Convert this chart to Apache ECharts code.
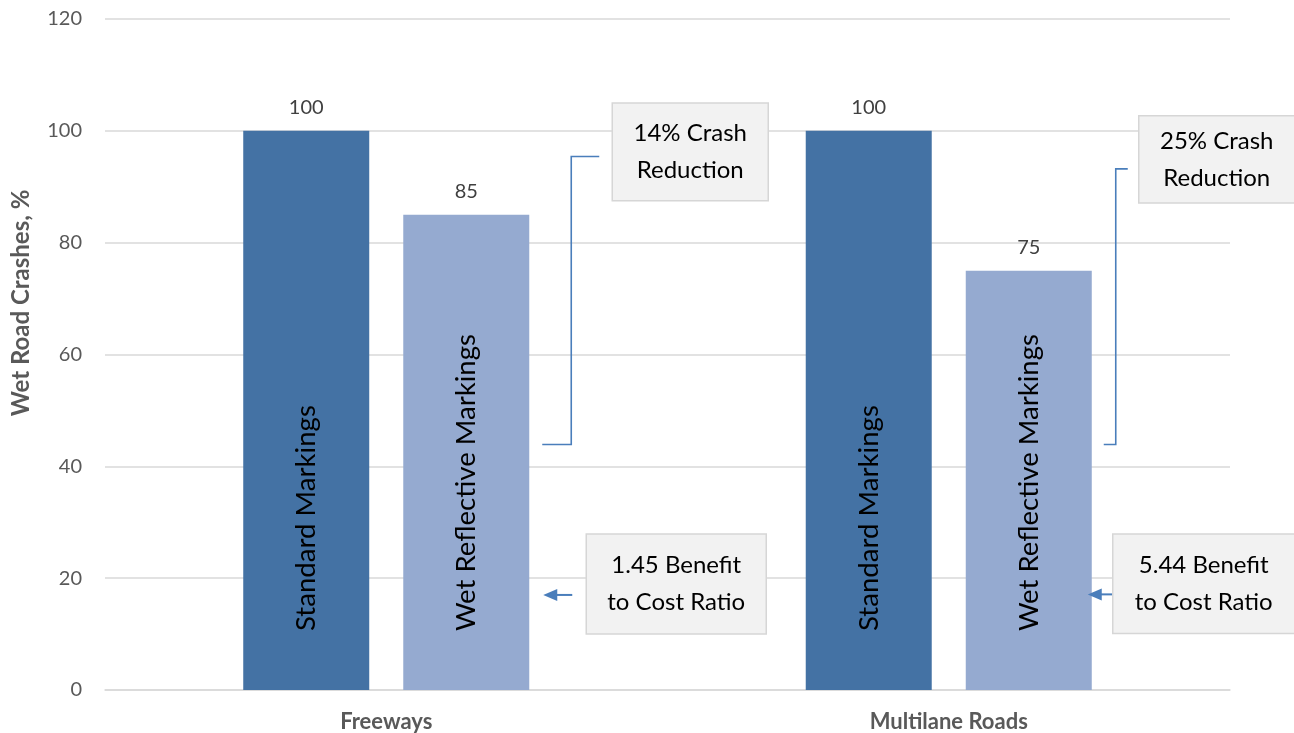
<!DOCTYPE html>
<html><head><meta charset="utf-8">
<script src="https://cdn.jsdelivr.net/npm/echarts@6/dist/echarts.min.js"></script>
<style>html,body{margin:0;padding:0;background:#fff}#c{width:1294px;height:733px}</style>
</head><body><div id="c"></div>
<script>
// ---- data ----
const categories = ['Freeways', 'Multilane Roads'];
const standardMarkings = [100, 100];
const wetReflectiveMarkings = [85, 75];
const seriesNames = ['Standard Markings', 'Wet Reflective Markings'];
const crashReductionNotes = ['14% Crash\nReduction', '25% Crash\nReduction'];
const benefitCostNotes = ['1.45 Benefit\nto Cost Ratio', '5.44 Benefit\nto Cost Ratio'];
const yAxisTitle = 'Wet Road Crashes, %';
const yMin = 0, yMax = 120, yStep = 20;

// ---- annotation layout (pixel offsets from category centre, vertical positions in axis units) ----
const annotLayout = [
  { brX: 185, brTopR: 213, brBotL: 156, brTop: 95.4, brBot: 43.9,
    boxL: 226, boxW: 156, boxTop: 105, boxBot: 87.5,
    arTip: 157, arTail: 186, arVal: 17.0, bcrL: 200, bcrW: 180, bcrTop: 27.9, bcrBot: 10.0 },
  { brX: 167, brTopR: 179, brBotL: 155, brTop: 93.2, brBot: 43.9,
    boxL: 190, boxW: 156, boxTop: 102.7, boxBot: 87.1,
    arTip: 139, arTail: 164, arVal: 17.1, bcrL: 164, bcrW: 182, bcrTop: 27.9, bcrBot: 10.1 }
];

const FONT = 'Lato, "Noto Sans", sans-serif';
const lineBlue = '#4a7ebb';

function renderAnnot(params, api) {
  const i = api.value(0);
  const L = annotLayout[i];
  const cx = api.coord([i, 0])[0];
  const y = v => api.coord([i, v])[1];
  const ls = { stroke: lineBlue, lineWidth: 1.6, fill: null };
  const boxStyle = { fill: '#f2f2f2', stroke: '#d6d6d6', lineWidth: 1.5 };
  const txt = (text, x, yy) => ({
    type: 'text',
    style: { text, x, y: yy, align: 'center', verticalAlign: 'middle',
      fontFamily: FONT, fontSize: 24, lineHeight: 37, fill: '#000' }
  });
  const ay = y(L.arVal);
  return {
    type: 'group',
    children: [
      { type: 'polyline', shape: { points: [
        [cx + L.brBotL, y(L.brBot)], [cx + L.brX, y(L.brBot)],
        [cx + L.brX, y(L.brTop)], [cx + L.brTopR, y(L.brTop)] ] }, style: ls },
      { type: 'rect', shape: { x: cx + L.boxL, y: y(L.boxTop), width: L.boxW, height: y(L.boxBot) - y(L.boxTop) }, style: boxStyle },
      txt(crashReductionNotes[i], cx + L.boxL + L.boxW / 2, (y(L.boxTop) + y(L.boxBot)) / 2),
      { type: 'line', shape: { x1: cx + L.arTail, y1: ay, x2: cx + L.arTip + 10, y2: ay }, style: { stroke: lineBlue, lineWidth: 2 } },
      { type: 'polygon', shape: { points: [[cx + L.arTip, ay], [cx + L.arTip + 14, ay - 6], [cx + L.arTip + 14, ay + 6]] }, style: { fill: lineBlue } },
      { type: 'rect', shape: { x: cx + L.bcrL, y: y(L.bcrTop), width: L.bcrW, height: y(L.bcrBot) - y(L.bcrTop) }, style: boxStyle },
      txt(benefitCostNotes[i], cx + L.bcrL + L.bcrW / 2, (y(L.bcrTop) + y(L.bcrBot)) / 2)
    ]
  };
}

const barCommon = { barWidth: 126, barGap: '27%' };
const valueLabel = { show: true, position: 'top', distance: 13, fontFamily: FONT, fontSize: 20, color: '#404040' };
const insideLabel = { show: true, position: 'insideBottom', rotate: 90, align: 'left', verticalAlign: 'middle',
  distance: 59, formatter: '{a}', fontFamily: FONT, fontSize: 27.6, color: '#000' };

const chart = echarts.init(document.getElementById('c'), null, { renderer: 'canvas' });
chart.setOption({
  animation: false,
  backgroundColor: '#fff',
  grid: { left: 105, right: 64, top: 19, bottom: 42 },
  xAxis: [
    { type: 'category', data: categories,
      axisLine: { lineStyle: { color: '#d9d9d9', width: 1.5 } }, axisTick: { show: false },
      axisLabel: { fontFamily: FONT, fontWeight: 'bold', fontSize: 22, color: '#595959', margin: 21 } },
    { type: 'category', data: categories, show: false }
  ],
  yAxis: {
    type: 'value', min: yMin, max: yMax, interval: yStep,
    axisLine: { show: false }, axisTick: { show: false },
    axisLabel: { fontFamily: FONT, fontSize: 20, color: '#595959', margin: 23 },
    splitLine: { lineStyle: { color: '#d9d9d9', width: 1.5 } }
  },
  graphic: [{
    type: 'text', x: 21, y: 303, rotation: Math.PI / 2,
    style: { text: yAxisTitle, align: 'center', verticalAlign: 'middle', fontFamily: FONT, fontWeight: 'bold', fontSize: 24, fill: '#595959' }
  }],
  series: [
    Object.assign({ type: 'bar', name: seriesNames[0], data: standardMarkings, itemStyle: { color: '#4472a4' }, label: valueLabel }, barCommon),
    Object.assign({ type: 'bar', name: seriesNames[1], data: wetReflectiveMarkings, itemStyle: { color: '#95aad0' }, label: valueLabel }, barCommon),
    Object.assign({ type: 'bar', name: seriesNames[0], xAxisIndex: 1, data: standardMarkings, silent: true, itemStyle: { color: 'rgba(0,0,0,0)' }, label: insideLabel, z: 3 }, barCommon),
    Object.assign({ type: 'bar', name: seriesNames[1], xAxisIndex: 1, data: wetReflectiveMarkings, silent: true, itemStyle: { color: 'rgba(0,0,0,0)' }, label: insideLabel, z: 3 }, barCommon),
    { type: 'custom', xAxisIndex: 0, yAxisIndex: 0, data: [[0], [1]], renderItem: renderAnnot, silent: true, z: 5, clip: false }
  ]
});
</script></body></html>
